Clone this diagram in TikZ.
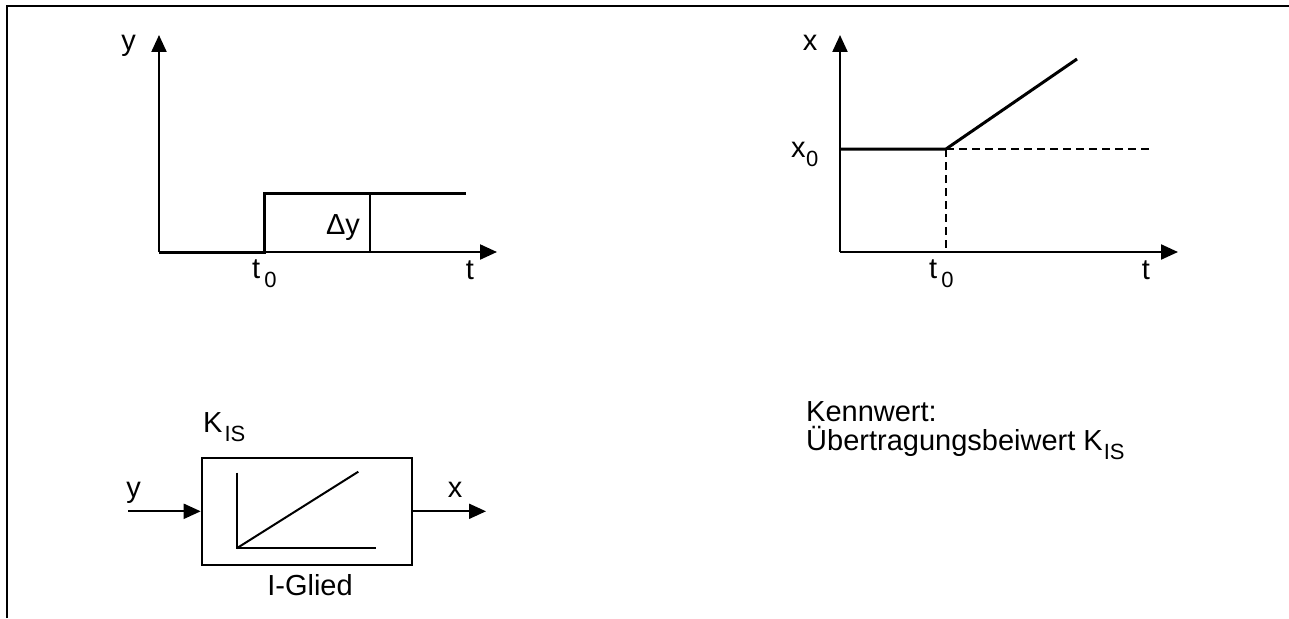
\documentclass[tikz,border=0pt]{standalone}
\usepackage{fontspec}
\setmainfont{Liberation Sans}
\usetikzlibrary{arrows.meta}
\newcommand\mysub[1]{\raisebox{-9pt}{\fontsize{22}{22}\selectfont #1}}
\tikzset{
  lbl/.style={font=\fontsize{29}{34}\selectfont, inner sep=0pt},
  axisline/.style={line width=2.2pt, -{Triangle[length=17pt,width=15pt]}},
  sigline/.style={line width=3pt},
  thinline/.style={line width=1.4pt},
  dashline/.style={line width=1.3pt, dash pattern=on 8pt off 5pt},
  flowarrow/.style={line width=2pt, -{Triangle[length=17pt,width=15pt]}},
  blockbox/.style={draw, line width=2pt, minimum width=210pt, minimum height=107pt, inner sep=0pt},
}
\begin{document}
\begin{tikzpicture}[x=1pt,y=-1pt]
\useasboundingbox (0,0) rectangle (1289,618);
% frame
\coordinate (fbl) at (7,618);
\coordinate (ftl) at (7,6);
\coordinate (ftr) at (1289,6);
\draw[line width=2.5pt] (fbl) -- (ftl) -- (ftr);

% ---- left plot: step input ----
\coordinate (o1) at (159,252);
\coordinate (ytip1) at (159,35);
\coordinate (ttip1) at (497,252);
\draw[axisline] (o1) -- (ytip1);
\draw[axisline] (o1) -- (ttip1);
\coordinate (s1) at (264,252);
\coordinate (s2) at (264,193);
\coordinate (s3) at (466,193);
\draw[sigline] (o1) -- (s1) -- (s2) -- (s3);
\coordinate (dyt) at (370,193);
\coordinate (dyb) at (370,252);
\draw[thinline] (dyt) -- (dyb);
\node[lbl, anchor=base] (ylab1) at (128.5,51) {y};
\node[lbl] (dylab) at (343,228) {Δy};
\node[lbl, anchor=base west] (t0lab1) at (252,278) {t\kern4pt\mysub{0}};
\node[lbl, anchor=base] (tlab1) at (470,279) {t};

% ---- right plot: ramp output ----
\coordinate (o2) at (840,252);
\coordinate (ytip2) at (840,35);
\coordinate (ttip2) at (1178,252);
\draw[axisline] (o2) -- (ytip2);
\draw[axisline] (o2) -- (ttip2);
\coordinate (x0a) at (840,149);
\coordinate (x0b) at (946,149);
\coordinate (x0c) at (1151,149);
\coordinate (x0d) at (946,252);
\coordinate (rampend) at (1077,59);
\draw[dashline] (x0b) -- (x0c);
\draw[dashline] (x0b) -- (x0d);
\draw[sigline, line join=round] (x0a) -- (x0b) -- (rampend);
\node[lbl, anchor=base] (xlab2) at (810,51) {x};
\node[lbl, anchor=base west] (x0lab) at (791,157) {x\kern0.5pt\mysub{0}};
\node[lbl, anchor=base west] (t0lab2) at (929,278) {t\kern4pt\mysub{0}};
\node[lbl, anchor=base] (tlab2) at (1146,279) {t};

% ---- block diagram ----
\node[blockbox] (blk) at (306.7,511.3) {};
\coordinate (iv) at (236.7,472.7);
\coordinate (io) at (236.7,548.3);
\coordinate (ih) at (376,548.3);
\coordinate (id) at (358.3,471.7);
\draw[line width=2pt] (iv) -- (io) -- (ih);
\draw[line width=2pt] (io) -- (id);
\coordinate (yin) at (128,511.3);
\coordinate (xout) at (486,511.3);
\draw[flowarrow] (yin) -- (blk.west);
\draw[flowarrow] (blk.east) -- (xout);
\node[lbl, anchor=base] (yinlab) at (133.5,497) {y};
\node[lbl, anchor=base] (xoutlab) at (455,497) {x};
\node[lbl, anchor=base west] (kislab) at (203,432) {K\kern2pt\mysub{IS}};
\node[lbl, anchor=base] (glied) at (310,595) {I-Glied};

% ---- characteristic value ----
\node[lbl, anchor=base west] (kenn1) at (806,421.5) {Kennwert:};
\node[lbl, anchor=base west] (kenn2) at (806,450) {Übertragungsbeiwert K\kern1pt\mysub{IS}};
\end{tikzpicture}
\end{document}
